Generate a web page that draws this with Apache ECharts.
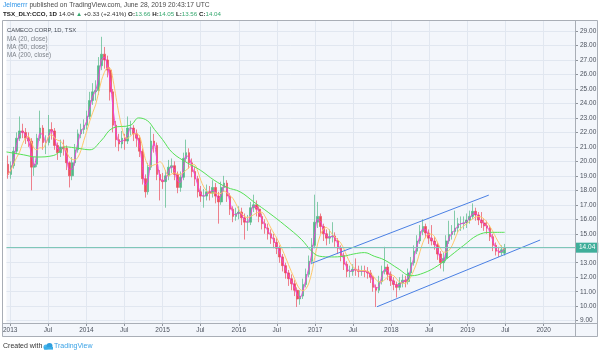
<!DOCTYPE html>
<html><head><meta charset="utf-8">
<script src="https://cdn.jsdelivr.net/npm/echarts@6/dist/echarts.min.js"></script>
<style>html,body{margin:0;padding:0;background:#fff}#c{width:600px;height:355px}</style>
</head><body><div id="c"></div>
<script>
// ---------- data (2-week bars) ----------
const dates = ['2012-12-21','2013-01-04','2013-01-18','2013-02-01','2013-02-15','2013-03-01','2013-03-15','2013-03-29','2013-04-12','2013-04-26','2013-05-10','2013-05-24','2013-06-07','2013-06-21','2013-07-05','2013-07-19','2013-08-02','2013-08-16','2013-08-30','2013-09-13','2013-09-27','2013-10-11','2013-10-25','2013-11-08','2013-11-22','2013-12-06','2013-12-20',
'2014-01-03','2014-01-17','2014-01-31','2014-02-14','2014-02-28','2014-03-14','2014-03-28','2014-04-11','2014-04-25','2014-05-09','2014-05-23','2014-06-06','2014-06-20','2014-07-04','2014-07-18','2014-08-01','2014-08-15','2014-08-29','2014-09-12','2014-09-26','2014-10-10','2014-10-24','2014-11-07','2014-11-21','2014-12-05','2014-12-19',
'2015-01-02','2015-01-16','2015-01-30','2015-02-13','2015-02-27','2015-03-13','2015-03-27','2015-04-10','2015-04-24','2015-05-08','2015-05-22','2015-06-05','2015-06-19','2015-07-03','2015-07-17','2015-07-31','2015-08-14','2015-08-28','2015-09-11','2015-09-25','2015-10-09','2015-10-23','2015-11-06','2015-11-20','2015-12-04','2015-12-18',
'2016-01-01','2016-01-15','2016-01-29','2016-02-12','2016-02-26','2016-03-11','2016-03-25','2016-04-08','2016-04-22','2016-05-06','2016-05-20','2016-06-03','2016-06-17','2016-07-01','2016-07-15','2016-07-29','2016-08-12','2016-08-26','2016-09-09','2016-09-23','2016-10-07','2016-10-21','2016-11-04','2016-11-18','2016-12-02','2016-12-16','2016-12-30',
'2017-01-13','2017-01-27','2017-02-10','2017-02-24','2017-03-10','2017-03-24','2017-04-07','2017-04-21','2017-05-05','2017-05-19','2017-06-02','2017-06-16','2017-06-30','2017-07-14','2017-07-28','2017-08-11','2017-08-25','2017-09-08','2017-09-22','2017-10-06','2017-10-20','2017-11-03','2017-11-17','2017-12-01','2017-12-15','2017-12-29',
'2018-01-12','2018-01-26','2018-02-09','2018-02-23','2018-03-09','2018-03-23','2018-04-06','2018-04-20','2018-05-04','2018-05-18','2018-06-01','2018-06-15','2018-06-29','2018-07-13','2018-07-27','2018-08-10','2018-08-24','2018-09-07','2018-09-21','2018-10-05','2018-10-19','2018-11-02','2018-11-16','2018-11-30','2018-12-14','2018-12-28',
'2019-01-11','2019-01-25','2019-02-08','2019-02-22','2019-03-08','2019-03-22','2019-04-05','2019-04-19','2019-05-03','2019-05-17','2019-05-31','2019-06-14','2019-06-28'];

const opens = [19.8,19.1,19.7,20.7,21.6,22.1,22.0,21.6,21.4,19.6,
19.8,21.6,22.3,21.3,21.3,22.2,22.1,21.1,20.6,21.0,
20.9,19.9,19.0,19.9,20.8,21.9,22.2,22.5,23.1,24.2,
24.8,24.9,26.6,27.4,27.0,26.3,24.8,22.5,21.5,21.2,
21.6,21.4,22.3,22.3,21.9,21.6,20.7,18.8,17.9,19.6,
21.4,21.1,19.1,18.7,18.6,19.0,19.6,19.7,19.1,18.2,
18.9,20.2,20.6,19.9,19.3,18.8,17.9,17.6,17.6,17.9,
17.8,18.2,17.6,17.2,18.2,18.5,17.6,16.7,16.2,16.4,
16.5,16.1,15.8,15.8,16.8,17.0,16.7,16.2,15.7,15.4,
15.0,14.7,14.4,14.0,13.4,12.8,12.3,11.9,11.55,11.1,
10.5,10.7,11.5,12.2,13.1,14.2,15.8,16.2,15.5,15.0,
14.7,14.8,14.85,14.5,14.0,13.5,12.9,12.4,12.4,12.55,
12.5,12.4,12.45,12.4,12.3,12.0,11.3,11.1,11.7,12.4,
12.7,12.2,11.75,11.5,11.3,11.6,11.8,11.7,12.3,13.0,
13.8,14.5,15.15,15.5,15.05,14.7,14.5,14.25,13.6,13.0,
13.3,14.5,14.95,15.15,15.4,15.7,15.7,15.75,15.95,16.2,
16.55,16.3,15.95,15.75,15.55,15.4,14.8,14.2,13.8,13.7,
13.66];

const closes = [19.1,19.7,20.7,21.6,22.1,22.0,21.6,21.4,19.6,19.8,
21.6,22.3,21.3,21.3,22.2,22.1,21.1,20.6,21.0,20.9,
19.9,19.0,19.9,20.8,21.9,22.2,22.5,23.1,24.2,24.8,
24.9,26.6,27.4,27.0,26.3,24.8,22.5,21.5,21.2,21.6,
21.4,22.3,22.3,21.9,21.6,20.7,18.8,17.9,19.6,21.4,
21.1,19.1,18.7,18.6,19.0,19.6,19.7,19.1,18.2,18.9,
20.2,20.6,19.9,19.3,18.8,17.9,17.6,17.6,17.9,17.8,
18.2,17.6,17.2,18.2,18.5,17.6,16.7,16.2,16.4,16.5,
16.1,15.8,15.8,16.8,17.0,16.7,16.2,15.7,15.4,15.0,
14.7,14.4,14.0,13.4,12.8,12.3,11.9,11.55,11.1,10.5,
10.7,11.5,12.2,13.1,14.2,15.8,16.2,15.5,15.0,14.7,
14.8,14.85,14.5,14.0,13.5,12.9,12.4,12.4,12.55,12.5,
12.4,12.45,12.4,12.3,12.0,11.3,11.1,11.7,12.4,12.7,
12.2,11.75,11.5,11.3,11.6,11.8,11.7,12.3,13.0,13.8,
14.5,15.15,15.5,15.05,14.7,14.5,14.25,13.6,13.0,13.3,
14.5,14.95,15.15,15.4,15.7,15.7,15.75,15.95,16.2,16.55,
16.3,15.95,15.75,15.55,15.4,14.8,14.2,13.8,13.7,13.9,
14.04];

const highs = [20.4,20.0,21.0,22.0,23.1,22.6,22.3,22.0,21.6,20.3,
21.9,23.5,22.5,21.8,23.2,22.7,22.3,21.3,21.5,21.5,
21.1,20.0,20.3,21.2,22.2,22.6,22.9,23.5,24.8,25.4,
25.6,27.2,28.6,27.9,27.3,26.5,25.0,22.8,21.9,22.1,
21.9,23.1,22.8,22.5,22.2,21.8,20.9,19.1,19.9,22.4,
21.9,21.3,19.4,19.2,19.4,20.1,20.2,20.0,19.3,19.3,
20.6,21.5,20.9,20.2,19.6,19.0,18.3,18.1,18.4,18.3,
18.7,18.5,17.9,18.6,19.0,18.7,17.8,16.9,16.8,16.9,
16.8,16.4,16.3,17.2,17.7,17.3,16.9,16.4,16.0,15.7,
15.3,15.0,14.7,14.2,13.6,13.0,12.5,12.2,11.8,11.3,
11.1,11.9,12.6,13.5,14.7,17.7,17.2,16.4,15.7,15.3,
15.3,15.8,15.1,14.7,14.2,13.7,13.1,12.8,12.9,13.3,
12.8,12.8,12.8,12.7,12.5,12.1,11.5,12.1,12.8,14.1,
12.9,12.4,12.0,11.7,12.0,12.2,12.1,12.6,13.4,14.2,
14.9,15.6,16.0,15.7,15.3,15.6,14.8,14.4,13.8,13.7,
14.9,15.9,15.6,16.6,16.1,16.2,16.2,16.4,16.6,17.1,
16.8,16.5,16.5,16.0,15.9,15.6,15.0,14.4,14.1,14.2,
14.3];

const lows = [18.8,18.8,19.5,20.5,21.4,21.6,21.2,21.0,18.0,19.0,
19.6,21.4,20.8,20.5,21.1,21.5,20.8,20.1,20.3,20.4,
19.4,18.2,18.7,19.7,20.6,21.6,21.9,22.2,22.9,23.9,
24.2,24.6,26.3,26.4,25.8,24.2,22.0,21.0,20.7,20.9,
20.8,21.2,21.8,21.4,21.0,20.3,18.4,17.5,17.7,19.4,
20.6,18.7,17.3,18.1,16.8,18.7,19.2,18.7,17.8,17.9,
18.7,20.0,19.5,18.9,18.3,17.5,17.2,16.8,17.3,17.3,
17.5,17.1,15.7,17.0,17.9,17.2,16.3,15.8,15.9,16.0,
15.6,14.6,15.2,15.6,16.5,16.2,15.8,15.3,15.0,14.6,
14.3,14.0,13.6,13.0,12.4,11.9,11.4,11.1,10.7,9.95,
10.1,10.5,11.3,12.0,12.9,14.0,15.4,15.0,14.5,14.2,
14.3,14.4,14.1,13.6,13.1,12.5,12.0,12.0,12.1,12.1,
12.0,12.1,12.0,11.9,11.6,11.0,9.95,10.9,11.5,12.2,
11.8,11.4,11.1,10.6,11.1,11.3,11.3,11.5,12.1,12.8,
13.6,14.3,14.9,14.7,14.3,14.2,13.9,13.2,12.6,12.4,
13.1,14.3,14.6,14.9,15.1,15.2,15.3,15.4,15.7,16.0,
15.9,15.6,15.4,15.2,15.0,14.5,13.8,13.5,13.4,13.5,
13.5];

// MA(200) (needs history before the chart start)
const ma200Dates = ['2012-12-14','2013-03-06','2013-05-07','2013-07-26','2013-08-28','2013-09-21','2013-11-22','2014-01-18','2014-03-11','2014-05-07','2014-08-01','2014-09-08','2014-10-21','2014-11-23','2015-01-01','2015-02-17','2015-04-29','2015-06-30','2015-09-05','2015-11-06','2016-01-07','2016-03-13','2016-05-24','2016-08-08','2016-10-28','2016-12-15','2017-01-22','2017-03-20','2017-05-17','2017-07-03','2017-08-25','2017-10-11','2017-11-28','2018-02-02','2018-04-05','2018-06-06','2018-08-12','2018-10-13','2018-12-14','2019-02-18','2019-04-20','2019-06-28'];
const ma200Values = [20.65,20.45,20.3,20.4,20.7,21.0,20.9,20.8,21.4,22.3,22.5,23.0,22.8,22.2,21.5,20.6,19.9,19.4,18.7,18.2,17.9,17.2,16.45,15.6,14.6,13.8,13.45,13.4,13.45,13.6,13.7,13.45,13.2,12.6,12.1,12.3,12.8,13.5,14.2,14.9,15.1,15.1];

// trend channel drawn by the author
const channelUpper = [['2016-12-15', 12.96], ['2019-04-13', 17.67]];
const channelLower = [['2017-10-24', 9.96], ['2019-12-15', 14.57]];

const lastPrice = 14.04;
const yTicks = [9,10,11,12,13,14,15,16,17,18,19,20,21,22,23,24,25,26,27,28,29];
const xTicks = ['2013-01-01','2013-07-01','2014-01-01','2014-07-01','2015-01-01','2015-07-01','2016-01-01','2016-07-01','2017-01-01','2017-07-01','2018-01-01','2018-07-01','2019-01-01','2019-07-01','2020-01-01'];
const X_MIN = '2012-12-14', X_MAX = '2020-05-30';
const Y_MIN = 8.84, Y_MAX = 29.76;
const MA20_BARS = 2, MA50_BARS = 5;   // 20 and 50 daily bars expressed in 2-week bars

// ---------- chart ----------
const ts = s => { const p = s.split('-').map(Number); return Date.UTC(p[0], p[1] - 1, p[2]); };
function movingAverage(vals, n) {
  return vals.map((_, i) => { const s = vals.slice(Math.max(0, i - n + 1), i + 1); return s.reduce((a, b) => a + b, 0) / s.length; });
}
const candleData = dates.map((d, i) => [ts(d), opens[i], closes[i], lows[i], highs[i]]);
const ma20 = movingAverage(closes, MA20_BARS).map((v, i) => [ts(dates[i]), v]);
const ma50 = movingAverage(closes, MA50_BARS).map((v, i) => [ts(dates[i]), v]);
const ma200 = ma200Dates.map((d, i) => [ts(d), ma200Values[i]]);

const FONT = 'Liberation Sans';
const UP = '#53b987', DOWN = '#eb4d5c';
const chart = echarts.init(document.getElementById('c'), null, { renderer: 'canvas', width: 600, height: 355 });

const option = {
  animation: false,
  backgroundColor: '#ffffff',
  textStyle: { fontFamily: FONT },
  grid: { left: 3, right: 25, top: 20, bottom: 32, show: true, backgroundColor: '#f3f6fb', borderWidth: 0 },
  xAxis: {
    type: 'value', min: ts(X_MIN), max: ts(X_MAX),
    axisLine: { show: false },
    axisTick: { show: true, length: 3, customValues: xTicks.map(ts), lineStyle: { color: '#8f949c' } },
    axisLabel: { customValues: xTicks.map(ts), fontSize: 6.5, color: '#4c525e', margin: 4, fontFamily: FONT,
      formatter: v => { const d = new Date(v); return d.getUTCMonth() === 0 ? String(d.getUTCFullYear()) : 'Jul'; } },
    splitLine: { show: true, lineStyle: { color: '#e1e7f0', width: 1 } }
  },
  yAxis: {
    type: 'value', position: 'right', min: Y_MIN, max: Y_MAX,
    axisLine: { show: false },
    axisTick: { show: true, length: 3, customValues: yTicks, lineStyle: { color: '#8f949c' } },
    axisLabel: { customValues: yTicks, fontSize: 6.5, color: '#4c525e', margin: 5, fontFamily: FONT, formatter: v => v.toFixed(2) },
    splitLine: { show: true, lineStyle: { color: '#e1e7f0', width: 1 } }
  },
  series: [
    { type: 'candlestick', data: candleData, barWidth: 2.1, z: 2,
      itemStyle: { color: UP, color0: DOWN, borderColor: UP, borderColor0: DOWN, borderWidth: 0.7 },
      markLine: { silent: true, symbol: 'none', animation: false,
        data: [{ yAxis: lastPrice }],
        lineStyle: { color: '#7fc7b9', width: 1, type: 'solid' },
        label: { position: 'end', formatter: lastPrice.toFixed(2), distance: 1, color: '#ffffff', backgroundColor: '#3fae9a',
          padding: [2, 3, 1, 3], fontSize: 6.5, fontFamily: FONT } } },
    { type: 'line', name: 'MA (20, close)', data: ma20, showSymbol: false, smooth: 0.3, z: 3, lineStyle: { color: '#f23fdc', width: 1 } },
    { type: 'line', name: 'MA (50, close)', data: ma50, showSymbol: false, smooth: 0.3, z: 3, lineStyle: { color: '#ffc86a', width: 1 } },
    { type: 'line', name: 'MA (200, close)', data: ma200, showSymbol: false, smooth: 0.4, z: 3, lineStyle: { color: '#55e155', width: 1 } },
    { type: 'line', data: channelUpper.map(p => [ts(p[0]), p[1]]), showSymbol: false, z: 4, lineStyle: { color: '#4a80e4', width: 1 } },
    { type: 'line', data: channelLower.map(p => [ts(p[0]), p[1]]), showSymbol: false, z: 4, lineStyle: { color: '#4a80e4', width: 1 } }
  ],
  graphic: [
    { type: 'rect', silent: true, z: -5, shape: { x: 575, y: 20, width: 23, height: 317 }, style: { fill: '#f3f6fb' } },
    { type: 'rect', silent: true, z: -5, shape: { x: 2, y: 323, width: 596, height: 14 }, style: { fill: '#f3f6fb' } },
    { type: 'rect', silent: true, z: 50, shape: { x: 2.5, y: 20.5, width: 595, height: 316 }, style: { fill: null, stroke: '#a9aeb6', lineWidth: 1 } },
    { type: 'line', silent: true, z: 50, shape: { x1: 575.5, y1: 20, x2: 575.5, y2: 337 }, style: { stroke: '#a9aeb6', lineWidth: 1 } },
    { type: 'line', silent: true, z: 50, shape: { x1: 2, y1: 323.5, x2: 598, y2: 323.5 }, style: { stroke: '#a9aeb6', lineWidth: 1 } },
    { type: 'text', silent: true, z: 50, x: 3, y: 2, style: { text: '{a|Jelmerrr} {b|published on TradingView.com, June 28, 2019 20:43:17 UTC}',
      font: '6.7px ' + FONT, rich: { a: { fill: '#2f95e8', font: '6.7px ' + FONT }, b: { fill: '#4a4a4a', font: '6.7px ' + FONT } } } },
    { type: 'text', silent: true, z: 50, x: 3, y: 11.5, style: {
      text: '{k|TSX_DLY:CCO, 1D} {n|14.04} {g|▲} {n|+0.33 (+2.41%)} {k|O:}{g|13.66} {k|H:}{g|14.05} {k|L:}{g|13.56} {k|C:}{g|14.04}',
      font: '6.2px ' + FONT,
      rich: { k: { fill: '#222222', font: 'bold 6.2px ' + FONT }, n: { fill: '#333333', font: '6.2px ' + FONT }, g: { fill: '#36a86f', font: '6.2px ' + FONT } } } },
    { type: 'text', silent: true, z: 50, x: 7, y: 27.5, style: { text: 'CAMECO CORP, 1D, TSX', fill: '#4a4f58', font: '5.9px ' + FONT } },
    { type: 'text', silent: true, z: 50, x: 7, y: 36, style: { text: 'MA (20, close)', fill: '#7d828a', font: '6.3px ' + FONT } },
    { type: 'text', silent: true, z: 50, x: 7, y: 44.5, style: { text: 'MA (50, close)', fill: '#7d828a', font: '6.3px ' + FONT } },
    { type: 'text', silent: true, z: 50, x: 7, y: 52.5, style: { text: 'MA (200, close)', fill: '#7d828a', font: '6.3px ' + FONT } },
    { type: 'text', silent: true, z: 50, x: 3, y: 343, style: { text: 'Created with', fill: '#333333', font: '7px ' + FONT } },
    { type: 'circle', silent: true, z: 50, shape: { cx: 46, cy: 347, r: 2.6 }, style: { fill: '#4bb8ef' } },
    { type: 'circle', silent: true, z: 50, shape: { cx: 49.5, cy: 346, r: 3 }, style: { fill: '#2e9fde' } },
    { type: 'rect', silent: true, z: 50, shape: { x: 44, y: 347, width: 9, height: 2.6 }, style: { fill: '#3aaee8' } },
    { type: 'text', silent: true, z: 50, x: 54, y: 343, style: { text: 'TradingView', fill: '#3aa2e6', font: '7px ' + FONT } }
  ]
};
chart.setOption(option);
</script>
</body></html>
